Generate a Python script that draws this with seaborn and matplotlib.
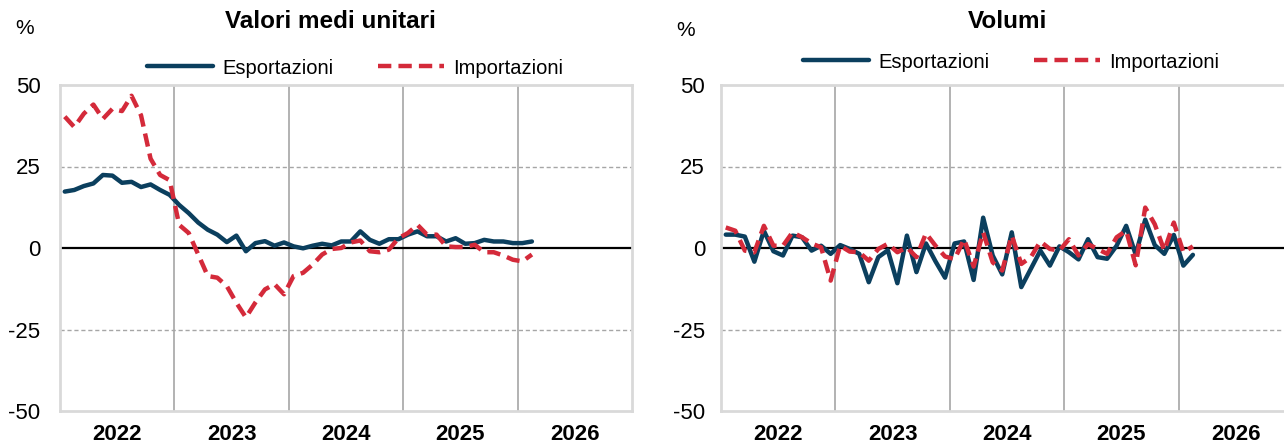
# Export / import prices and volumes, yearly % changes, monthly data

import numpy as np
import pandas as pd
import seaborn as sns
import matplotlib.pyplot as plt
from matplotlib.lines import Line2D

# Data (Jan 2022 - Feb 2026)
years = ["2022", "2023", "2024", "2025", "2026"]
months = pd.date_range("2022-01-01", "2026-02-01", freq="MS")

vmu_exp = [17.3, 17.8, 19.0, 19.8, 22.4, 22.2, 20.0, 20.3, 18.7, 19.5, 17.8, 16.3,
           13.2, 10.7, 7.8, 5.6, 4.1, 1.8, 3.8, -1.0, 1.5, 2.1, 0.7, 1.7,
           0.5, -0.1, 0.7, 1.3, 0.8, 2.0, 2.0, 5.1, 2.5, 1.3, 2.7, 2.7,
           4.1, 5.1, 3.6, 3.6, 2.0, 3.0, 1.3, 1.5, 2.5, 2.0, 2.0, 1.5,
           1.5, 2.0]
vmu_imp = [40.3, 37.1, 41.2, 44.0, 39.6, 42.7, 42.0, 46.7, 40.7, 27.4, 22.4, 20.8,
           7.1, 4.6, -2.0, -8.6, -9.1, -11.7, -16.8, -21.3, -16.7, -12.7, -11.1, -14.2,
           -8.6, -7.6, -5.1, -2.0, -0.3, 0.0, 1.7, 2.3, -1.0, -1.3, -0.5, 3.0,
           4.6, 7.1, 4.1, 4.1, 0.5, 0.3, 0.3, 1.0, -1.3, -1.3, -2.3, -3.6,
           -4.1, -2.0]
vol_exp = [4.1, 4.1, 3.5, -4.2, 5.3, -1.0, -2.3, 3.8, 3.3, -0.8, 0.7, -1.8,
           0.9, -0.3, -1.8, -10.5, -2.8, -0.7, -10.8, 3.8, -7.4, 1.4, -4.1, -9.1,
           1.4, 2.0, -9.8, 9.3, -2.3, -8.1, 4.8, -12.0, -6.4, -0.8, -5.4, 0.5,
           -1.3, -3.5, 2.7, -2.8, -3.3, 0.7, 6.8, -2.0, 8.7, 0.9, -1.8, 4.0,
           -5.4, -2.1]
vol_imp = [6.3, 5.3, -0.8, -1.3, 6.8, 0.7, 0.7, 4.8, 3.3, 1.4, 0.2, -10.0,
           0.7, -1.1, -1.3, -3.9, -0.3, 1.3, -1.3, 0.2, -2.8, 4.5, 0.7, -2.6,
           -3.4, 2.7, -5.7, 4.8, -4.4, -6.9, 3.8, -4.9, -2.8, 2.0, -0.3, -0.8,
           2.7, -2.3, 1.2, -0.3, -1.8, 3.3, 5.3, -5.3, 12.4, 7.3, -0.8, 7.8,
           -1.3, 0.5]

pos = np.arange(len(months)) + 0.5  # month centre, in months since Jan 2022

df_vmu = pd.DataFrame({"pos": pos, "Esportazioni": vmu_exp, "Importazioni": vmu_imp})
df_vol = pd.DataFrame({"pos": pos, "Esportazioni": vol_exp, "Importazioni": vol_imp})

blue = "#0b3f5e"
red = "#d42a3a"

sns.set_style("white")
plt.rcParams["font.family"] = ["Liberation Sans", "DejaVu Sans"]
plt.rcParams["axes.unicode_minus"] = False
plt.rcParams["text.color"] = "black"
plt.rcParams["xtick.color"] = "black"
plt.rcParams["ytick.color"] = "black"

fig = plt.figure(figsize=(12.84, 4.46), dpi=100)
ax1 = fig.add_axes([60 / 1284, 35 / 446, 572 / 1284, 326 / 446])
ax2 = fig.add_axes([721 / 1284, 35 / 446, 572 / 1284, 326 / 446])


def draw(ax, df, ypad):
    sns.lineplot(data=df, x="pos", y="Esportazioni", ax=ax, color=blue, lw=3.2, zorder=4)
    sns.lineplot(data=df, x="pos", y="Importazioni", ax=ax, color=red, lw=3.2,
                 linestyle=(0, (3, 1.6)), zorder=5)
    ax.set_xlim(0, 60)
    ax.set_ylim(-50, 50)
    ax.set_yticks([-50, -25, 0, 25, 50])
    ax.set_xticks([6, 18, 30, 42, 54])
    ax.set_xticklabels(years, fontweight="bold")
    ax.tick_params(axis="x", length=0, pad=9, labelsize=16, labelcolor="black")
    ax.tick_params(axis="y", length=0, pad=ypad, labelsize=16, labelcolor="black")
    ax.set_xlabel("")
    ax.set_ylabel("")
    for y in (-25, 25):
        ax.axhline(y, color="#a6a6a6", lw=1, ls=(0, (3, 2)), zorder=1)
    ax.axhline(0, color="black", lw=1.6, zorder=2)
    for x in (12, 24, 36, 48):
        ax.axvline(x, color="#a6a6a6", lw=1.2, zorder=1)
    for s in ax.spines.values():
        s.set_color("#d9d9d9")
        s.set_linewidth(2)


draw(ax1, df_vmu, 14)
draw(ax2, df_vol, 11.5)

handles = [Line2D([], [], color=blue, lw=3.2),
           Line2D([], [], color=red, lw=3.2, linestyle=(0, (3, 1.6)))]
labels = ["Esportazioni", "Importazioni"]
for cx, cy in ((355 / 1284, 1 - 68 / 446), (1011 / 1284, 1 - 62 / 446)):
    fig.legend(handles, labels, loc="center", bbox_to_anchor=(cx, cy), ncol=2,
               frameon=False, fontsize=14.5, handlelength=3.3, handletextpad=0.45,
               columnspacing=2.2, borderpad=0)

fig.text(330 / 1284, 1 - 22 / 446, "Valori medi unitari", ha="center", va="center",
         fontsize=17.5, fontweight="bold")
fig.text(1008 / 1284, 1 - 22 / 446, "Volumi", ha="center", va="center",
         fontsize=17.5, fontweight="bold")
fig.text(25 / 1284, 1 - 28 / 446, "%", ha="center", va="center", fontsize=15)
fig.text(686 / 1284, 1 - 30 / 446, "%", ha="center", va="center", fontsize=15)

fig.savefig("out.png", dpi=100)
